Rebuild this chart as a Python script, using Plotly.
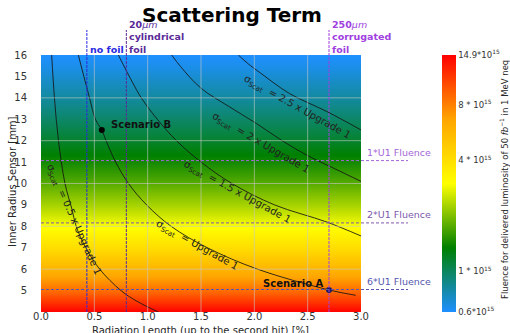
import numpy as np
import plotly.graph_objects as go

# ---- data -------------------------------------------------------------
# fluence (in 10^15 1 MeV neq) as a function of the inner sensor radius [mm]
radius = [4, 4.5, 5, 5.5, 6, 6.5, 7, 7.5, 8, 8.5, 9, 9.5, 10, 10.5, 11,
          11.5, 12, 12.5, 13, 13.5, 14, 14.5, 15, 15.5, 16]
fluence = [14.9, 11.34, 8.88, 7.12, 5.82, 4.83, 4.07, 3.47, 2.98, 2.59, 2.27,
           2.00, 1.78, 1.59, 1.43, 1.29, 1.17, 1.06, 0.97, 0.89, 0.815, 0.75,
           0.694, 0.64, 0.6]
rad_len_range = [0.0, 3.0]

# iso-lines of the scattering term (radiation length [%], radius [mm])
c05_x = [0.10, 0.126, 0.164, 0.225, 0.29, 0.33, 0.42, 0.55, 0.75, 0.90, 1.10]
c05_y = [16, 14, 12, 10, 8.8, 8, 7, 6, 5, 4.5, 4]
c10_x = [0.35, 0.455, 0.51, 0.57, 0.61, 0.70, 0.82, 0.99, 1.22, 1.56, 2.03, 2.70, 2.95]
c10_y = [16, 14, 13, 12.5, 12, 11, 10, 9, 8, 7, 6, 5.03, 4.78]
c15_x = [0.725, 0.86, 0.94, 1.09, 1.27, 1.50, 1.79, 2.19, 2.68, 3.0]
c15_y = [16, 14.7, 14, 13, 12, 11, 10, 9, 8.2, 7.55]
c20_x = [1.225, 1.31, 1.50, 1.76, 2.02, 2.26, 2.50, 2.75, 3.0]
c20_y = [16, 15.45, 14.45, 13.6, 12.8, 12.0, 11.3, 10.7, 10.1]
c25_x = [1.85, 1.94, 2.06, 2.33, 2.68, 3.0]
c25_y = [16, 15.6, 15.15, 14.2, 13.36, 12.5]
contours = [(c05_x, c05_y), (c10_x, c10_y), (c15_x, c15_y), (c20_x, c20_y), (c25_x, c25_y)]

# contour labels: text, x, y, angle
contour_labels = ["0.5 x Upgrade 1", "Upgrade 1", "1.5 x Upgrade 1",
                  "2 x Upgrade 1", "2.5 x Upgrade 1"]
label_x = [0.30, 1.46, 1.84, 2.06, 2.40]
label_y = [8.3, 7.1, 9.58, 11.85, 13.56]
label_angle = [66, 29, 28.5, 30, 29]

# working points
scen_names = ["Scenario B", "Scenario A"]
scen_x = [0.57, 2.70]
scen_y = [12.5, 5.03]
scen_color = ["#000000", "#1b1b66"]
scen_label_shift = [(39, 5), (-36, 6)]

# material options (vertical) and fluence levels (horizontal)
foil_x = [0.43, 0.80, 2.70]
foil_text = ["<b>no foil</b>",
             "<b>20</b><i>μm</i><br><b>cylindrical</b><br><b>foil</b>",
             "<b>250</b><i>μm</i><br><b>corrugated</b><br><b>foil</b>"]
foil_color = ["#2a2ae0", "#5a2a98", "#a03ee0"]

u1_y = [11.07, 8.16, 5.05]
u1_text = ["1*U1 Fluence", "2*U1 Fluence", "6*U1 Fluence"]
u1_color = ["#a566d8", "#7d58ad", "#5656b0"]

cbar_vals = [0.6, 1, 4, 8, 14.9]
cbar_text = ["0.6*10<sup>15</sup>", "1 * 10<sup>15</sup>", "4 * 10<sup>15</sup>",
             "8 * 10<sup>15</sup>", "14.9*10<sup>15</sup>"]

# ---- figure -----------------------------------------------------------
FONT = "DejaVu Sans"
W, H = 510, 333
ML, MR, MT, MB = 41, 149, 55, 21
PW, PH = W - ML - MR, H - MT - MB


def px_x(p):
    return (p - ML) / PW


def px_y(p):
    return (H - MB - p) / PH


colorscale = [[0.0, "#1e90ff"], [0.25, "#008000"], [0.5, "#ffff00"],
              [0.75, "#ffa500"], [1.0, "#ff0000"]]

logF = np.log10(np.array(fluence))
z = np.repeat(logF[:, None], len(rad_len_range), axis=1)

fig = go.Figure()
fig.add_trace(go.Heatmap(
    x=rad_len_range, y=radius, z=z, zsmooth="best",
    colorscale=colorscale, zmin=np.log10(min(cbar_vals)), zmax=np.log10(max(cbar_vals)),
    hoverinfo="skip",
    colorbar=dict(
        x=px_x(441.7), xanchor="left", xpad=0, y=0.5, yanchor="middle", len=1, ypad=0,
        thickness=14, thicknessmode="pixels", outlinewidth=0,
        tickvals=list(np.log10(cbar_vals)), ticktext=cbar_text,
        tickfont=dict(family=FONT, size=8.5, color="#333333"),
        ticks="",
    ),
))

for cx, cy in contours:
    fig.add_trace(go.Scatter(x=cx, y=cy, mode="lines",
                             line=dict(color="rgba(20,20,20,0.85)", width=1, shape="spline"),
                             hoverinfo="skip", showlegend=False))

fig.add_trace(go.Scatter(x=scen_x, y=scen_y, mode="markers",
                         marker=dict(color=scen_color, size=6), showlegend=False, hoverinfo="skip"))

shapes = []
# light grid on top of the colour map
for gx in [0.5, 1.0, 1.5, 2.0, 2.5]:
    shapes.append(dict(type="line", xref="x", yref="y", x0=gx, x1=gx, y0=4, y1=16,
                       line=dict(color="rgba(200,200,200,0.6)", width=1), layer="above"))
for gy in [6, 8, 10, 12, 14]:
    shapes.append(dict(type="line", xref="x", yref="y", x0=0, x1=3, y0=gy, y1=gy,
                       line=dict(color="rgba(200,200,200,0.6)", width=1), layer="above"))
for fx, fc in zip(foil_x, foil_color):
    shapes.append(dict(type="line", xref="x", yref="paper", x0=fx, x1=fx, y0=0, y1=px_y(30),
                       line=dict(color=fc, width=1, dash="3px,1px"), layer="above"))
for uy, uc in zip(u1_y, u1_color):
    shapes.append(dict(type="line", xref="paper", yref="y", x0=0, x1=px_x(408), y0=uy, y1=uy,
                       line=dict(color=uc, width=1, dash="3px,2px"), layer="above"))

ann = []
for txt, lx, ly, la in zip(contour_labels, label_x, label_y, label_angle):
    ann.append(dict(x=lx, y=ly, xref="x", yref="y", showarrow=False, textangle=la,
                    xanchor="center", yanchor="middle",
                    text="σ<sub>Scat</sub>\u00a0\u00a0= " + txt,
                    font=dict(family=FONT, size=10, color="#222222")))
for name, sx, sy, (dx, dy) in zip(scen_names, scen_x, scen_y, scen_label_shift):
    ann.append(dict(x=sx, y=sy, xref="x", yref="y", showarrow=False,
                    xanchor="center", yanchor="middle", xshift=dx, yshift=dy,
                    text="<b>" + name + "</b>", font=dict(family=FONT, size=10, color="#111111")))
for fx, ft, fc in zip(foil_x, foil_text, foil_color):
    ann.append(dict(x=fx, y=1.0, xref="x", yref="paper", xanchor="left", yanchor="bottom",
                    xshift=1, yshift=-2, showarrow=False, align="left", text=ft,
                    font=dict(family=FONT, size=9.5, color=fc)))
for uy, ut, uc in zip(u1_y, u1_text, u1_color):
    ann.append(dict(x=px_x(365), y=uy, xref="paper", yref="y", xanchor="left", yanchor="middle",
                    yshift=8, showarrow=False, text=ut, font=dict(family=FONT, size=9.5, color=uc)))
# axis titles
ann.append(dict(x=px_x(12), y=px_y(182), xref="paper", yref="paper", showarrow=False, textangle=-90,
                xanchor="center", yanchor="middle",
                text="Inner Radius Sensor [mm]", font=dict(family=FONT, size=10, color="#262626")))
ann.append(dict(x=px_x(200.7), y=px_y(330), xref="paper", yref="paper", showarrow=False,
                xanchor="center", yanchor="middle",
                text="Radiation Length (up to the second hit) [%]",
                font=dict(family=FONT, size=10, color="#262626")))
ann.append(dict(x=px_x(504), y=px_y(180), xref="paper", yref="paper", showarrow=False, textangle=-90,
                xanchor="center", yanchor="middle",
                text="Fluence for delivered luminosity of 50 <i>fb</i><sup>−1</sup> in 1 MeV neq",
                font=dict(family=FONT, size=8.5, color="#262626")))

fig.update_layout(
    width=W, height=H, margin=dict(l=ML, r=MR, t=MT, b=MB, autoexpand=False),
    paper_bgcolor="white", plot_bgcolor="white",
    title=dict(text="<b>Scattering Term</b>", x=232 / W, xref="container", xanchor="center",
               y=1 - 15 / H, yref="container", yanchor="middle",
               font=dict(family=FONT, size=20, color="#000000")),
    xaxis=dict(range=[0, 3], tickvals=[0, 0.5, 1, 1.5, 2, 2.5, 3],
               ticktext=["0.0", "0.5", "1.0", "1.5", "2.0", "2.5", "3.0"],
               showgrid=False, zeroline=False, showline=False, automargin=False,
               ticks="", ticklabelstandoff=-3,
               tickfont=dict(family=FONT, size=10, color="#333333")),
    yaxis=dict(range=[4, 16], tickvals=list(range(5, 17)),
               showgrid=False, zeroline=False, showline=False, automargin=False,
               ticks="outside", ticklen=11, tickcolor="rgba(0,0,0,0)",
               tickfont=dict(family=FONT, size=10, color="#333333")),
    shapes=shapes, annotations=ann, showlegend=False,
)

fig.write_html("out.html")
